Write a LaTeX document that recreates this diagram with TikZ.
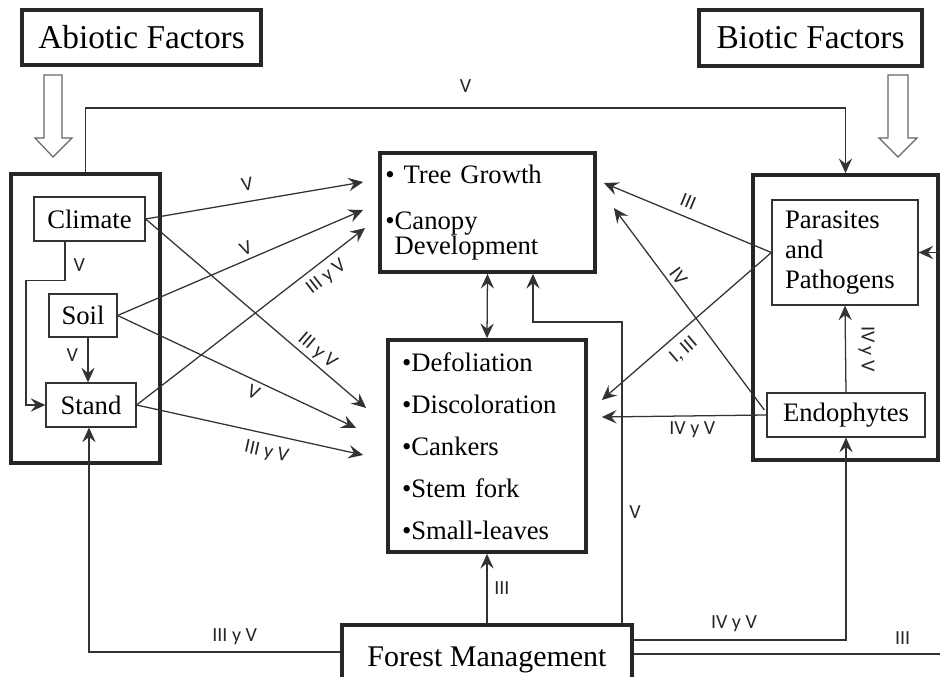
\documentclass[tikz,border=0pt]{standalone}
\usepackage{fontspec}
\setmainfont{Liberation Serif}
\newfontfamily\labelfont{Carlito}
\usetikzlibrary{arrows.meta,calc}

\begin{document}
\begin{tikzpicture}[
        x=0.75pt,y=-0.75pt,
        >={Stealth[length=11pt,width=10pt,inset=4pt]},
        thickbox/.style={draw=black!85,rectangle,line width=2.8pt,font=\fontsize{20}{22.5}\selectfont},
        thinbox/.style={draw=black!80,rectangle,line width=0.9pt,font=\fontsize{20}{22.5}\selectfont},
        factor/.style={thickbox,font=\fontsize{25}{30}\selectfont},
        link/.style={draw=black!80,line width=0.95pt,->},
        wire/.style={draw=black!80,line width=0.95pt},
        lab/.style={font=\labelfont\fontsize{15}{15}\selectfont,text=black!85,inner sep=2pt},
        hollow/.style={draw=black!60,line width=0.9pt,fill=white}
      ]
      \useasboundingbox (0,0) rectangle (940,677);
      \clip (0,0) rectangle (940,677);
      % factor headers
      \node[factor,minimum width=179.25pt,minimum height=41.25pt] (abiotic) at (141.5,37.5) {Abiotic Factors};
      \node[factor,minimum width=167.25pt,minimum height=42pt] (biotic) at (810.5,38) {Biotic Factors};
      \draw[hollow] (44,75) -- (62,75) -- (62,138) -- (72,138) -- (53,157) -- (35,138) -- (44,138) -- cycle;
      \draw[hollow] (888,75) -- (908,75) -- (908,138) -- (917,138) -- (898,157) -- (879,138) -- (888,138) -- cycle;
      % groups
      \node[thickbox,minimum width=111.75pt,minimum height=216.75pt] (abio) at (85.5,318.5) {};
      \node[thickbox,minimum width=138.75pt,minimum height=213.75pt] (bio) at (845.5,317.5) {};
      \node[thinbox,minimum width=83.25pt,minimum height=33pt] (climate) at (89.5,219) {Climate};
      \node[thinbox,minimum width=51pt,minimum height=32.25pt] (soil) at (83,315.5) {Soil};
      \node[thinbox,minimum width=67.5pt,minimum height=33pt] (stand) at (91,405) {Stand};
      \node[thinbox,text width=90pt,inner xsep=9.75pt,align=left,minimum height=78.75pt] (para) at (845,252.5) {Parasites\\and\\Pathogens};
      \node[thinbox,minimum width=118.5pt,minimum height=33pt] (endo) at (846,415) {Endophytes};
      % responses
      \node[thickbox,text width=153.25pt,inner xsep=4pt,align=left,minimum height=89.25pt,font=\fontsize{20}{19}\selectfont] (tree) at (487.5,212.5) {• Tree Growth\\[15.5pt]•Canopy\\\hphantom{•}Development};
      \node[thickbox,text width=127.5pt,inner xsep=10.5pt,align=left,minimum height=159pt,font=\fontsize{20}{31.5}\selectfont] (symp) at (487,446) {•Defoliation\\•Discoloration\\•Cankers\\•Stem fork\\•Small-leaves};
      \node[thickbox,minimum width=217.5pt,minimum height=52.5pt,font=\fontsize{22.5}{27}\selectfont] (fm) at (487,660) {Forest Management};
      \coordinate (offp) at (950,252.5);
      \coordinate (offr) at (950,654);

      % abiotic links
      \draw[link] (abio.north) -- ++(0,-64) -| node[lab,above=9pt,pos=.25] {V} (bio.north);
      \draw[link] ([xshift=-18.4pt]climate.south) -- node[lab,right=4pt,pos=.6] {V} ++(0,39) -- ++(-39,0) |- (stand.west);
      \draw[link] ($(soil.south)+(5,0)$) -- node[lab,left=5pt,pos=.4] {V} ($(stand.north)+(-3,0)$);
      \draw[link] (climate.east) -- node[lab,sloped,above=6pt,pos=.48] {V} ($(tree.west)+(-15,-30.5)$);
      \draw[link] (soil.east) -- node[lab,sloped,above=1pt,pos=.54] {V} ($(tree.west)+(-15,-2.5)$);
      \draw[link] (stand.east) -- node[lab,sloped,below=3pt,pos=.79] {III y V} ($(tree.west)+(-13,15.5)$);
      \draw[link] (climate.east) -- node[lab,sloped,above,pos=.745] {III y V} ($(symp.west)+(-20,-38)$);
      \draw[link] (soil.east) -- node[lab,sloped,below=1pt,pos=.59] {V} ($(symp.west)+(-30,-18)$);
      \draw[link] (stand.east) -- node[lab,sloped,below=5pt,pos=.59] {III y V} ($(symp.west)+(-23,9)$);
      \draw[link,<->] (tree.south) -- (symp.north);

      % biotic links
      \draw[link] (para.west) -- node[lab,sloped,above=4pt,pos=.53] {III} ($(tree.east)+(7,-29.5)$);
      \draw[link] ($(endo.west)+(-2,-5)$) -- node[lab,sloped,above=1pt,pos=.63] {IV} ($(tree.east)+(17,-4.5)$);
      \draw[link] (para.west) -- node[lab,sloped,below=4pt,pos=.58] {I, III} ($(symp.east)+(14,-46)$);
      \draw[link] (endo.west) -- node[lab,below=2pt,pos=.45] {IV y V} ($(symp.east)+(14,-29)$);
      \draw[link] (endo.north) -- node[lab,midway,xshift=15.75pt,rotate=-90] {IV y V} (para.south);
      \draw[link] (offp) -- (para.east);

      % management links
      \draw[link] ([yshift=6pt]fm.west) -| node[lab,above=3pt,pos=.21] {III y V} ([xshift=-1.5pt]stand.south);
      \draw[link] (fm.north) -- node[lab,right=3pt] {III} (symp.south);
      \draw[link] ([xshift=101.25pt]fm.north) -- node[lab,right=3pt,pos=.37] {V} ++(0,-301) -| ([xshift=34.1pt]tree.south);
      \draw[link] ([yshift=15pt]fm.east) -| node[lab,above=4pt,pos=.236] {IV y V} (endo.south);
      \draw[wire] ([yshift=4.5pt]fm.east) -- node[lab,above=5pt,pos=.85] {III} (offr);
    \end{tikzpicture}
\end{document}
